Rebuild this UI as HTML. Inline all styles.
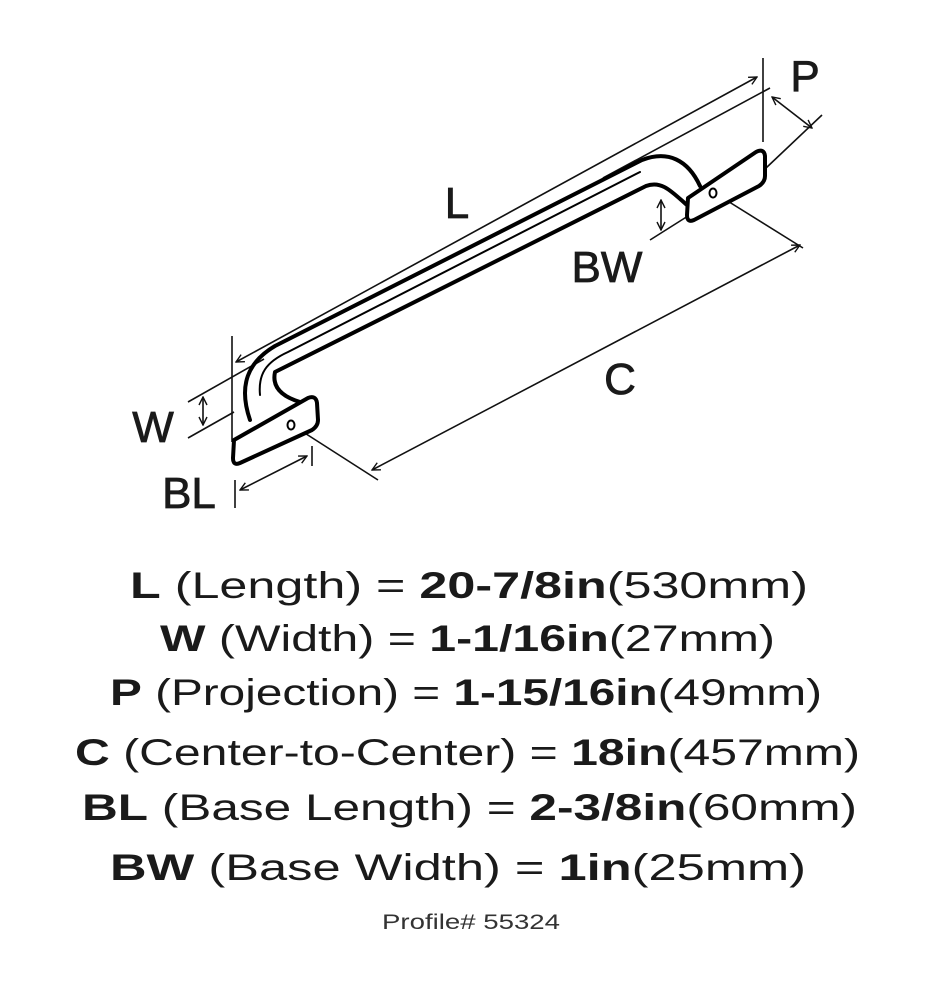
<!DOCTYPE html>
<html><head><meta charset="utf-8"><style>
html,body{margin:0;padding:0;background:#fff;}
svg{display:block;}
text{font-family:"Liberation Sans",sans-serif;fill:#1a1a1a;}
</style></head><body>
<svg width="930" height="990" viewBox="0 0 930 990" xmlns="http://www.w3.org/2000/svg">
<defs>
<marker id="a" viewBox="0 0 10 10" refX="9" refY="5" markerWidth="10" markerHeight="10" orient="auto-start-reverse" markerUnits="userSpaceOnUse">
<path d="M1,1 L9,5 L1,9" fill="none" stroke="#111" stroke-width="1.4"/></marker>
</defs>
<g stroke="#111" stroke-width="1.6" fill="none">
<line x1="763" y1="58" x2="763" y2="142"/>
<line x1="232" y1="336" x2="232" y2="442"/>
<line x1="603" y1="178" x2="770" y2="88"/>
<line x1="766" y1="168" x2="822" y2="115"/>
<line x1="188" y1="402" x2="264" y2="359"/>
<line x1="188" y1="438" x2="234" y2="412"/>
<line x1="300" y1="430" x2="378" y2="480"/>
<line x1="718" y1="195" x2="803" y2="248"/>
<line x1="650" y1="240" x2="688" y2="216"/>
<line x1="235" y1="480" x2="235" y2="508"/>
<line x1="312" y1="446" x2="312" y2="466"/>
<line x1="236" y1="362" x2="757" y2="77" marker-start="url(#a)" marker-end="url(#a)"/>
<line x1="772" y1="97" x2="812" y2="128" marker-start="url(#a)" marker-end="url(#a)"/>
<line x1="372" y1="470" x2="800" y2="245" marker-start="url(#a)" marker-end="url(#a)"/>
<line x1="240" y1="490" x2="307" y2="456" marker-start="url(#a)" marker-end="url(#a)"/>
<line x1="203" y1="397" x2="203" y2="425" marker-start="url(#a)" marker-end="url(#a)"/>
<line x1="661" y1="200" x2="661" y2="230" marker-start="url(#a)" marker-end="url(#a)"/>
</g>
<g stroke="#000" fill="none" stroke-linecap="round" stroke-linejoin="round">
<path d="M250,420 C238,385 248,362 275,346 L642,160 C668,150 688,160 700,186" stroke-width="4"/>
<path d="M300,402 C280,396 272,386 275,372 L646,186 C662,180 672,192 688,206" stroke-width="4"/>
<path d="M260,395 C258,374 266,362 288,352 L640,172" stroke-width="2"/>
<path d="M234,440 L308,398 Q316,395 317,403 L318,420 Q318,426 312,430 L240,463 Q233,466 233,458 Z" fill="#fff" stroke-width="4"/>
<ellipse cx="291" cy="425" rx="3.5" ry="4.5" stroke-width="2"/>
<path d="M688,198 L756,152 Q764,148 765,156 L765,176 Q765,182 759,186 L694,220 Q687,223 687,215 Z" fill="#fff" stroke-width="4"/>
<ellipse cx="713" cy="193" rx="3.5" ry="4.5" stroke-width="2"/>
</g>
<g font-size="44" stroke="#1a1a1a" stroke-width="0.8">
<text x="457" y="218" text-anchor="middle">L</text>
<text x="805" y="91" text-anchor="middle">P</text>
<text x="607" y="282" text-anchor="middle">BW</text>
<text x="620" y="394" text-anchor="middle">C</text>
<text x="153" y="442" text-anchor="middle">W</text>
<text x="189" y="508" text-anchor="middle">BL</text>
</g>
<g font-size="37">
<text x="130" y="598" textLength="678" lengthAdjust="spacingAndGlyphs"><tspan font-weight="bold">L</tspan> (Length) = <tspan font-weight="bold">20-7/8in</tspan>(530mm)</text>
<text x="160" y="651" textLength="615" lengthAdjust="spacingAndGlyphs"><tspan font-weight="bold">W</tspan> (Width) = <tspan font-weight="bold">1-1/16in</tspan>(27mm)</text>
<text x="110" y="705" textLength="712" lengthAdjust="spacingAndGlyphs"><tspan font-weight="bold">P</tspan> (Projection) = <tspan font-weight="bold">1-15/16in</tspan>(49mm)</text>
<text x="75" y="765" textLength="785" lengthAdjust="spacingAndGlyphs"><tspan font-weight="bold">C</tspan> (Center-to-Center) = <tspan font-weight="bold">18in</tspan>(457mm)</text>
<text x="82" y="820" textLength="775" lengthAdjust="spacingAndGlyphs"><tspan font-weight="bold">BL</tspan> (Base Length) = <tspan font-weight="bold">2-3/8in</tspan>(60mm)</text>
<text x="110" y="880" textLength="696" lengthAdjust="spacingAndGlyphs"><tspan font-weight="bold">BW</tspan> (Base Width) = <tspan font-weight="bold">1in</tspan>(25mm)</text>
</g>
<text x="382" y="929" font-size="21" textLength="178" lengthAdjust="spacingAndGlyphs" style="fill:#333">Profile# 55324</text>
</svg>
</body></html>
